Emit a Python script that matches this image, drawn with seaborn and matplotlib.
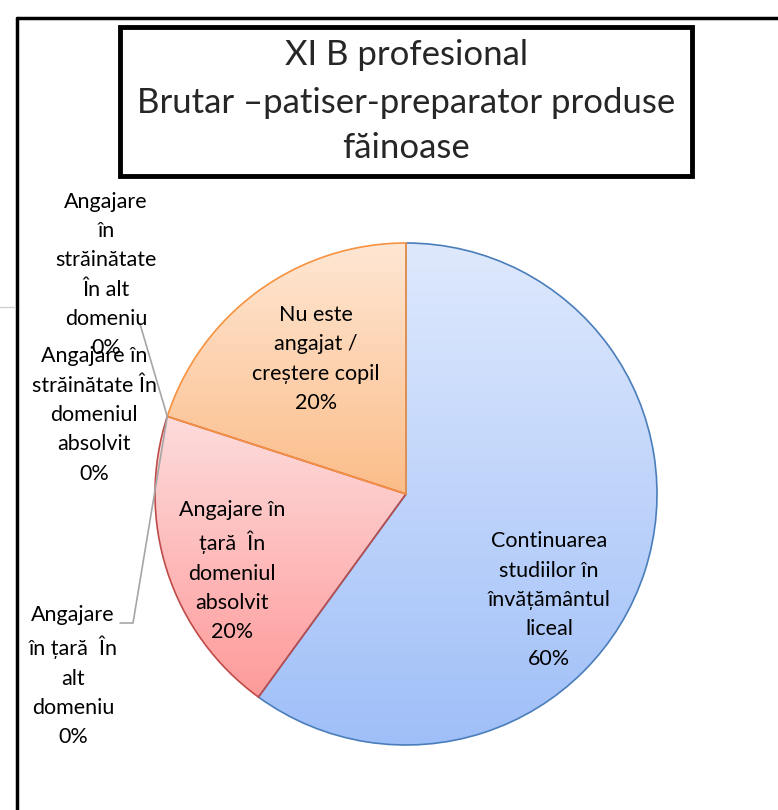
import numpy as np
import matplotlib
matplotlib.use('Agg')
import matplotlib.pyplot as plt
from matplotlib.lines import Line2D
from matplotlib.patches import Rectangle
from matplotlib.colors import to_rgb
import seaborn as sns

sns.set_style('white')
plt.rcParams['font.family'] = ['Lato', 'DejaVu Sans']

# data, clockwise from 12 o'clock
categories = ['Continuarea studiilor în învățământul liceal',
              'Angajare în țară  În domeniul absolvit',
              'Angajare în țară  În alt domeniu',
              'Angajare în străinătate În domeniul absolvit',
              'Angajare în străinătate În alt domeniu',
              'Nu este angajat / creștere copil']
values = [60, 20, 0, 0, 0, 20]
label_text = ['Continuarea\nstudiilor în\nînvățământul\nliceal',
              'Angajare în\nțară  În\ndomeniul\nabsolvit',
              'Angajare\nîn țară  În\nalt\ndomeniu',
              'Angajare în\nstrăinătate În\ndomeniul\nabsolvit',
              'Angajare\nîn\nstrăinătate\nÎn alt\ndomeniu',
              'Nu este\nangajat /\ncreștere copil']
title_lines = ['XI B profesional', 'Brutar –patiser-preparator produse', 'făinoase']

# gradient (top, bottom) and edge colours per slice
grad = [('#dfe9fd', '#9fbff8'), ('#fddcdc', '#ff9a9a'), ('#ffffff', '#ffffff'),
        ('#ffffff', '#ffffff'), ('#ffffff', '#ffffff'), ('#ffe7d4', '#fbbd89')]
edges = ['#4a7ebb', '#be4b48', '#9bbb59', '#8064a2', '#4bacc6', '#f69240']

W, H = 778, 810
cx, cy, R = 406, 494, 251
fig = plt.figure(figsize=(W / 100, H / 100), dpi=100)
ax = fig.add_axes([0, 0, 1, 1])

wedges, _ = ax.pie(values, startangle=90, counterclock=False, radius=1,
                   colors=['none'] * len(values),
                   wedgeprops=dict(linewidth=1.2))
for w, e, (c1, c2), v in zip(wedges, edges, grad, values):
    w.set_edgecolor(e)
    w.set_zorder(3)
    if v == 0:
        w.set_visible(False)
        continue
    verts = w.get_patch_transform().transform(w.get_path().vertices)
    x0, x1 = verts[:, 0].min(), verts[:, 0].max()
    y0, y1 = verts[:, 1].min(), verts[:, 1].max()
    t = np.linspace(0, 1, 256)[:, None]
    img = (1 - t) * np.array(to_rgb(c1)) + t * np.array(to_rgb(c2))
    im = ax.imshow(img[:, None, :], extent=[x0, x1, y0, y1], origin='upper',
                   aspect='auto', zorder=2, interpolation='bilinear')
    im.set_clip_path(w)

# label positions (pixel layout of the reference)
label_px = [(549, 600), (232, 571), (73, 676), (94, 415), (106, 275), (316, 359)]
# leader line starts for the zero slices
leader_px = {2: [(120, 623), (133, 623)], 4: [(140, 324)]}

cum = np.cumsum([0] + values) / sum(values)
for i, (txt, v, (px, py)) in enumerate(zip(label_text, values, label_px)):
    x = (px - cx) / R
    y = (cy - py) / R
    ax.text(x, y, f'{txt}\n{v}%', ha='center', va='center', fontsize=15.5,
            linespacing=1.58, color='black', zorder=5)
    if i in leader_px:
        ang = np.deg2rad(90 - 360 * (cum[i] + cum[i + 1]) / 2)
        tip = (np.cos(ang), np.sin(ang))
        pts = [((a - cx) / R, (cy - b) / R) for a, b in leader_px[i]] + [tip]
        xs, ys = zip(*pts)
        ax.plot(xs, ys, color='#a6a6a6', lw=1.2, zorder=4)

ax.set_xlim(-cx / R, (W - cx) / R)
ax.set_ylim((cy - H) / R, cy / R)
ax.set_aspect('auto')
ax.axis('off')

# outer frame
fig.add_artist(Line2D([17 / W, 17 / W], [0, 1 - 18 / H], color='black', lw=2.5))
fig.add_artist(Line2D([17 / W, 1], [1 - 18 / H, 1 - 18 / H], color='black', lw=2.5))
fig.add_artist(Line2D([0, 15 / W], [1 - 307 / H, 1 - 307 / H], color='#d0d0d0', lw=1))

# title box
fig.add_artist(Rectangle((120 / W, 1 - 176 / H), 572 / W, 149 / H,
                         transform=fig.transFigure, fill=False,
                         edgecolor='black', lw=3.5))
for line, py in zip(title_lines, [55, 103, 148]):
    fig.text(406 / W, 1 - py / H, line, ha='center', va='center', fontsize=25)

fig.savefig('out.png', dpi=100)
